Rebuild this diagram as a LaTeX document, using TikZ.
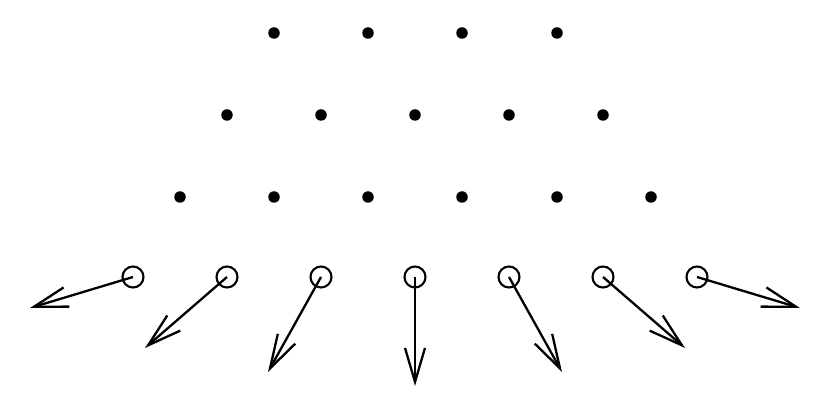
\documentclass[tikz,border=0pt]{standalone}
\usetikzlibrary{arrows.meta}
\begin{document}
\begin{tikzpicture}[x=1pt,y=-1pt,
  dotnode/.style={circle,fill=black,inner sep=0pt,minimum size=11.5pt},
  spin/.style={circle,draw=black,line width=2.1pt,inner sep=0pt,minimum size=21pt},
  vec/.style={line width=2.3pt,-{Straight Barb[length=34pt,width=20pt,line width=2.3pt]}}]
\useasboundingbox (0,0) rectangle (830,411);
% row 1
\foreach \x [count=\i] in {274,368,462,557} \node[dotnode] (a\i) at (\x,33) {};
% row 2
\foreach \x [count=\i] in {227,321,415,509,603} \node[dotnode] (b\i) at (\x,115) {};
% row 3
\foreach \x [count=\i] in {180,274,368,462,557,651} \node[dotnode] (c\i) at (\x,197) {};
% spins
\foreach \x [count=\i] in {133,227,321,415,509,603,697} \node[spin] (s\i) at (\x,277) {};
\coordinate (e1) at (30,308);
\coordinate (e2) at (145,348);
\coordinate (e3) at (268,372);
\coordinate (e4) at (415,386);
\coordinate (e5) at (562,372);
\coordinate (e6) at (685,348);
\coordinate (e7) at (800,308);
\foreach \i in {1,...,7} \draw[vec] (s\i.center) -- (e\i);
\end{tikzpicture}
\end{document}
